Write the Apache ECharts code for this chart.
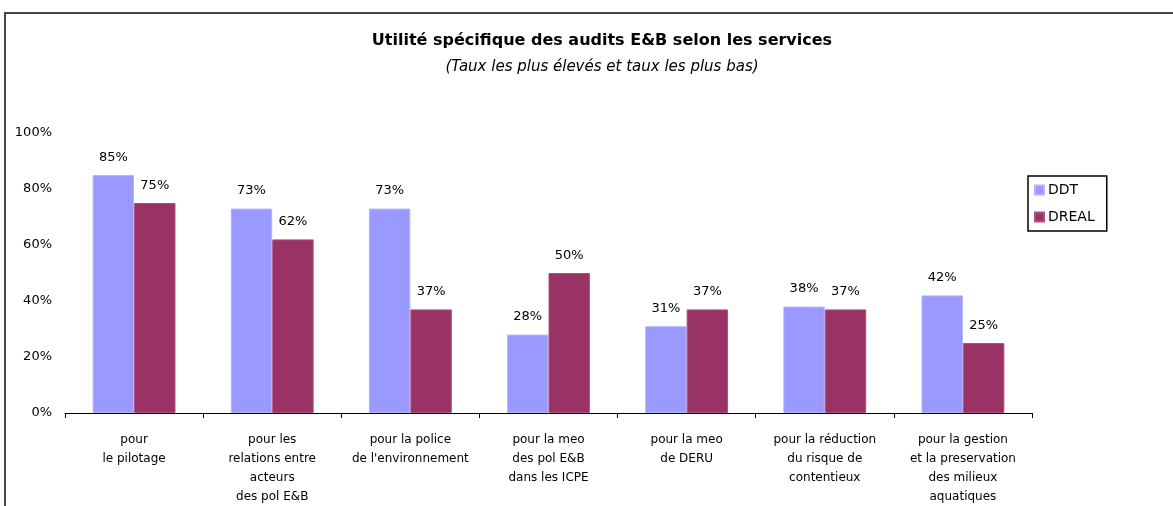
<!DOCTYPE html>
<html>
<head>
<meta charset="utf-8">
<script src="https://cdn.jsdelivr.net/npm/echarts@6/dist/echarts.min.js"></script>
<style>
  html, body { margin: 0; padding: 0; background: #fff; }
  #echar { width: 1173px; height: 506px; }
</style>
</head>
<body>
<div id="echar"></div>
<script>
// données
var categories = [
  'pour\nle pilotage',
  'pour les\nrelations entre\nacteurs\ndes pol E&B',
  'pour la police\nde l\'environnement',
  'pour la meo\ndes pol E&B\ndans les ICPE',
  'pour la meo\nde DERU',
  'pour la réduction\ndu risque de\ncontentieux',
  'pour la gestion\net la preservation\ndes milieux\naquatiques'
]
var ddt = [85, 73, 73, 28, 31, 38, 42]
var dreal = [75, 62, 37, 50, 37, 37, 25]
var yTicks = [0, 20, 40, 60, 80, 100]

var font = 'DejaVu Sans, Verdana, sans-serif'

var chart = echarts.init(document.getElementById('echar'))
var option = {
  animation: false,
  textStyle: { fontFamily: font },
  title: {
    text: 'Utilité spécifique des audits E&B selon les services',
    subtext: '(Taux les plus élevés et taux les plus bas)',
    left: 597,
    textAlign: 'center',
    top: 28,
    itemGap: 11,
    textStyle: { fontSize: 16, fontWeight: 'bold', color: '#000', fontFamily: font },
    subtextStyle: { fontSize: 15, fontStyle: 'italic', color: '#000', fontFamily: font }
  },
  // cadre
  graphic: [
    {
      type: 'rect',
      shape: { x: 5, y: 13, width: 1300, height: 600 },
      style: { fill: 'none', stroke: '#444', lineWidth: 2 },
      silent: true
    }
  ],
  legend: {
    data: ['DDT', 'DREAL'],
    orient: 'vertical',
    left: 1028,
    top: 176,
    padding: [7, 12, 7, 6],
    itemWidth: 9,
    itemHeight: 9,
    itemGap: 13,
    borderColor: '#000',
    borderWidth: 1.5,
    icon: 'rect',
    textStyle: { fontSize: 14, color: '#000', fontFamily: font, padding: [0, 0, 0, -1] }
  },
  grid: {
    left: 65,
    right: 141,
    top: 133,
    bottom: 92
  },
  xAxis: {
    type: 'category',
    data: categories,
    axisLine: { show: true, lineStyle: { color: '#000', width: 1 } },
    axisTick: { show: true, length: 5, lineStyle: { color: '#000' } },
    axisLabel: {
      interval: 0,
      margin: 17,
      fontSize: 12,
      lineHeight: 19,
      color: '#000',
      fontFamily: font
    }
  },
  yAxis: {
    type: 'value',
    min: 0,
    max: 100,
    interval: 20,
    axisLine: { show: false },
    axisTick: { show: false },
    splitLine: { show: false },
    axisLabel: {
      margin: 13,
      fontSize: 13,
      color: '#000',
      fontFamily: font,
      formatter: function (v) { return yTicks.indexOf(v) >= 0 ? v + '%' : '' }
    }
  },
  series: [
    {
      name: 'DDT',
      type: 'bar',
      data: ddt,
      barGap: '0%',
      barCategoryGap: '40%',
      itemStyle: { color: '#9999FF', borderColor: '#B3B3FF', borderWidth: 1 },
      label: {
        show: true,
        position: 'top',
        distance: 11,
        fontSize: 13,
        color: '#000',
        fontFamily: font,
        formatter: '{c}%'
      }
    },
    {
      name: 'DREAL',
      type: 'bar',
      data: dreal,
      itemStyle: { color: '#993366', borderColor: '#B0507F', borderWidth: 1 },
      label: {
        show: true,
        position: 'top',
        distance: 11,
        fontSize: 13,
        color: '#000',
        fontFamily: font,
        formatter: '{c}%'
      }
    }
  ]
}
chart.setOption(option)
</script>
</body>
</html>
